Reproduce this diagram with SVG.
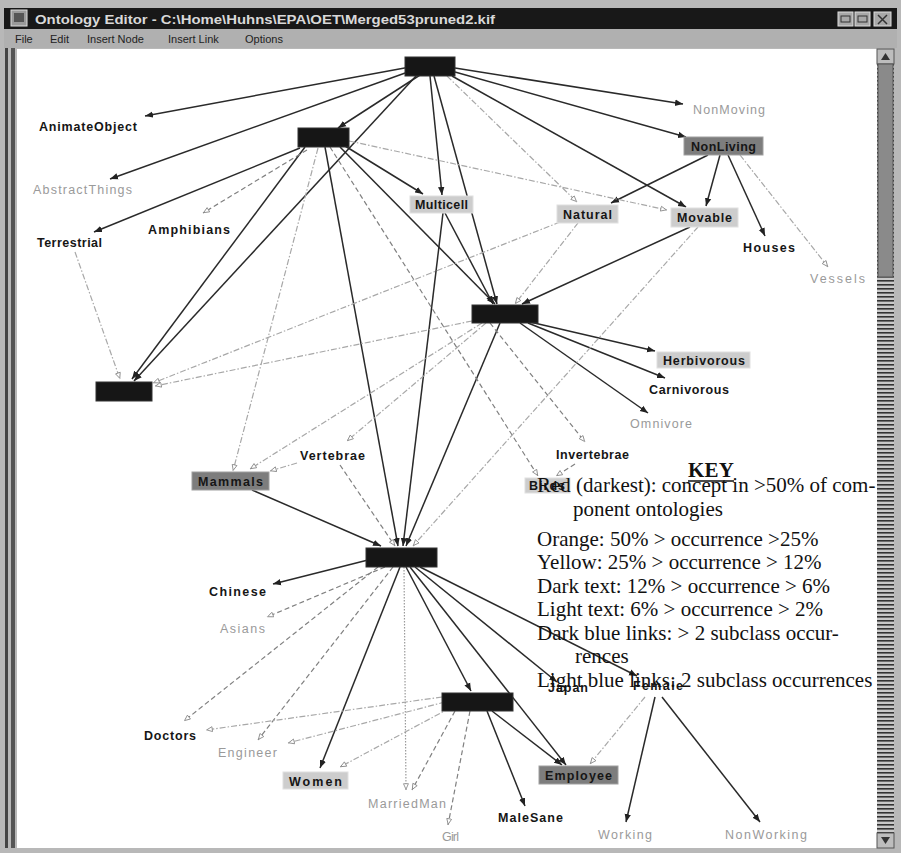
<svg xmlns="http://www.w3.org/2000/svg" width="901" height="853" viewBox="0 0 901 853">
<defs>
<style>
.frame{fill:#b8b8b8}
.lbl{font-family:"Liberation Sans",Arial,sans-serif;font-size:12.5px;font-weight:bold;fill:#161616}
.lt{font-family:"Liberation Sans",Arial,sans-serif;font-size:12.5px;fill:#9a9a9a}
.key{font-family:"Liberation Serif","Times New Roman",serif;font-size:21px;fill:#111}
.blk{fill:#161616;stroke:#333;stroke-width:1}
.org{fill:#7d7d7d;stroke:#a0a0a0;stroke-width:1}
.yel{fill:#cdcdcd;stroke:#e0e0e0;stroke-width:1}
.s{stroke:#2a2a2a;stroke-width:1.5;fill:none}
.d{stroke:#808080;stroke-width:1.2;stroke-dasharray:5 3;fill:none}
.dd{stroke:#a8a8a8;stroke-width:1.2;stroke-dasharray:6 2 1.5 2;fill:none}
.dt{stroke:#9a9a9a;stroke-width:1.2;stroke-dasharray:1.5 1.5;fill:none}
.s{marker-end:url(#ah)}
.d,.dd,.dt{marker-end:url(#ao)}
.menu{font-family:"Liberation Sans",Arial,sans-serif;font-size:11px;fill:#222}
</style>
<marker id="ah" viewBox="0 0 10 10" refX="10" refY="5" markerWidth="8" markerHeight="8" markerUnits="userSpaceOnUse" orient="auto"><path d="M0,1 L10,5 L0,9 z" fill="#222"/></marker>
<marker id="ao" viewBox="0 0 10 10" refX="10" refY="5" markerWidth="7" markerHeight="7" markerUnits="userSpaceOnUse" orient="auto"><path d="M1,1.5 L9,5 L1,8.5 z" fill="#fff" stroke="#888" stroke-width="1.2"/></marker>
<pattern id="stripes" width="17" height="4" patternUnits="userSpaceOnUse"><rect width="17" height="4" fill="#c8c8c8"/><rect y="0" width="17" height="1.6" fill="#333"/></pattern>
</defs>

<!-- window chrome -->
<rect class="frame" x="0" y="0" width="901" height="853"/>
<rect x="4" y="8" width="893" height="21" fill="#181818"/>
<rect x="11" y="10" width="16" height="16" fill="#9a9a9a" stroke="#ddd"/>
<rect x="14" y="13" width="10" height="9" fill="#555"/>
<text x="35" y="24" font-family="'Liberation Sans',Arial,sans-serif" font-size="12.5" font-weight="bold" fill="#d8d8d8" textLength="460" lengthAdjust="spacingAndGlyphs">Ontology Editor - C:\Home\Huhns\EPA\OET\Merged53pruned2.kif</text>
<rect x="838" y="12" width="15" height="14" fill="#a8a8a8" stroke="#ddd"/>
<rect x="855" y="12" width="15" height="14" fill="#a8a8a8" stroke="#ddd"/>
<rect x="874" y="12" width="17" height="14" fill="#a8a8a8" stroke="#ddd"/>
<rect x="841" y="16" width="9" height="6" fill="none" stroke="#333"/>
<rect x="858" y="16" width="9" height="6" fill="none" stroke="#333"/>
<path d="M878,15 L887,24 M887,15 L878,24" stroke="#333" stroke-width="1.5"/>
<rect x="4" y="29" width="893" height="19" fill="#b0b0b0"/>
<text class="menu" x="15" y="43">File</text>
<text class="menu" x="50" y="43">Edit</text>
<text class="menu" x="87" y="43">Insert Node</text>
<text class="menu" x="168" y="43">Insert Link</text>
<text class="menu" x="245" y="43">Options</text>
<rect x="5" y="48" width="3" height="800" fill="#444"/>
<rect x="11" y="48" width="4" height="800" fill="#555"/>
<rect x="17" y="49" width="860" height="799" fill="#ffffff"/>
<!-- scrollbar -->
<rect x="877" y="49" width="17" height="799" fill="url(#stripes)"/>
<rect x="877" y="49" width="17" height="15" fill="#bdbdbd" stroke="#555"/>
<path d="M881,60 L885.5,53 L890,60 z" fill="#333"/>
<rect x="878" y="64" width="15" height="213" fill="#8a8a8a" stroke="#555"/>
<rect x="877" y="833" width="17" height="15" fill="#bdbdbd" stroke="#555"/>
<path d="M881,837 L885.5,844 L890,837 z" fill="#333"/>

<!-- connectors -->
<g id="connectors">
<line class="s" x1="410" y1="67" x2="145" y2="116"/>
<line class="s" x1="408" y1="72" x2="110" y2="179"/>
<line class="s" x1="420" y1="75" x2="338" y2="128"/>
<line class="s" x1="416" y1="76" x2="134" y2="381"/>
<line class="s" x1="430" y1="76" x2="442" y2="195"/>
<line class="s" x1="434" y1="76" x2="497" y2="304"/>
<line class="s" x1="455" y1="68" x2="683" y2="104"/>
<line class="s" x1="455" y1="72" x2="686" y2="137"/>
<line class="s" x1="452" y1="76" x2="686" y2="207"/>
<line class="s" x1="300" y1="148" x2="94" y2="232"/>
<line class="s" x1="305" y1="147" x2="132" y2="379"/>
<line class="s" x1="325" y1="147" x2="398" y2="546"/>
<line class="s" x1="340" y1="147" x2="495" y2="304"/>
<line class="s" x1="345" y1="146" x2="423" y2="194"/>
<line class="s" x1="445" y1="213" x2="493" y2="304"/>
<line class="s" x1="443" y1="213" x2="403" y2="546"/>
<line class="s" x1="708" y1="155" x2="611" y2="203"/>
<line class="s" x1="720" y1="155" x2="706" y2="206"/>
<line class="s" x1="728" y1="155" x2="765" y2="236"/>
<line class="s" x1="690" y1="227" x2="522" y2="304"/>
<line class="s" x1="500" y1="323" x2="406" y2="546"/>
<line class="s" x1="530" y1="322" x2="655" y2="351"/>
<line class="s" x1="528" y1="323" x2="665" y2="378"/>
<line class="s" x1="520" y1="323" x2="648" y2="413"/>
<line class="s" x1="252" y1="490" x2="381" y2="546"/>
<line class="s" x1="368" y1="560" x2="273" y2="584"/>
<line class="s" x1="400" y1="567" x2="320" y2="768"/>
<line class="s" x1="406" y1="567" x2="471" y2="691"/>
<line class="s" x1="410" y1="567" x2="566" y2="765"/>
<line class="s" x1="415" y1="567" x2="557" y2="682"/>
<line class="s" x1="420" y1="567" x2="637" y2="676"/>
<line class="s" x1="487" y1="711" x2="525" y2="806"/>
<line class="s" x1="492" y1="711" x2="562" y2="765"/>
<line class="s" x1="655" y1="697" x2="626" y2="822"/>
<line class="s" x1="662" y1="697" x2="760" y2="822"/>
<line class="d" x1="307" y1="150" x2="203" y2="213"/>
<line class="d" x1="330" y1="147" x2="538" y2="476"/>
<line class="d" x1="490" y1="323" x2="585" y2="442"/>
<line class="d" x1="340" y1="465" x2="395" y2="546"/>
<line class="d" x1="385" y1="567" x2="267" y2="617"/>
<line class="d" x1="378" y1="567" x2="184" y2="721"/>
<line class="d" x1="393" y1="567" x2="258" y2="740"/>
<line class="d" x1="455" y1="711" x2="412" y2="790"/>
<line class="d" x1="470" y1="711" x2="448" y2="825"/>
<line class="d" x1="575" y1="464" x2="556" y2="476"/>
<line class="dd" x1="447" y1="76" x2="577" y2="202"/>
<line class="dd" x1="349" y1="141" x2="667" y2="210"/>
<line class="dd" x1="318" y1="148" x2="233" y2="471"/>
<line class="dd" x1="560" y1="222" x2="153" y2="383"/>
<line class="dd" x1="472" y1="321" x2="155" y2="386"/>
<line class="dd" x1="482" y1="323" x2="250" y2="469"/>
<line class="dd" x1="486" y1="323" x2="347" y2="441"/>
<line class="dd" x1="297" y1="463" x2="270" y2="471"/>
<line class="dd" x1="578" y1="223" x2="515" y2="304"/>
<line class="dd" x1="698" y1="227" x2="413" y2="546"/>
<line class="dd" x1="740" y1="155" x2="828" y2="267"/>
<line class="dd" x1="75" y1="252" x2="120" y2="379"/>
<line class="dd" x1="442" y1="697" x2="206" y2="730"/>
<line class="dd" x1="445" y1="702" x2="288" y2="743"/>
<line class="dd" x1="450" y1="708" x2="340" y2="767"/>
<line class="dd" x1="645" y1="697" x2="590" y2="764"/>
<line class="dt" x1="404" y1="567" x2="406" y2="790"/>
</g>

<!-- nodes -->
<g id="n-top"><rect class="blk" x="405" y="57" width="50" height="19"/></g>
<g id="n-a2"><rect class="blk" x="298" y="128" width="51" height="19"/></g>
<g id="n-c"><rect class="blk" x="472" y="305" width="66" height="18"/></g>
<g id="n-l"><rect class="blk" x="96" y="382" width="56" height="19"/></g>
<g id="n-p"><rect class="blk" x="366" y="548" width="71" height="19"/></g>
<g id="n-b"><rect class="blk" x="442" y="693" width="71" height="18"/></g>

<g id="n-animate"><text class="lbl" x="39" y="131" textLength="98">AnimateObject</text></g>
<g id="n-abstract"><text class="lt" x="33" y="194" textLength="99">AbstractThings</text></g>
<g id="n-amphibians"><text class="lbl" x="148" y="234" textLength="82">Amphibians</text></g>
<g id="n-terrestrial"><text class="lbl" x="37" y="247" textLength="65">Terrestrial</text></g>
<g id="n-nonmoving"><text class="lt" x="693" y="114" textLength="72">NonMoving</text></g>
<g id="n-nonliving"><rect class="org" x="684" y="137" width="79" height="18"/><text class="lbl" x="691" y="151" textLength="65">NonLiving</text></g>
<g id="n-multicell"><rect class="yel" x="410" y="196" width="63" height="17"/><text class="lbl" x="415" y="209" textLength="53">Multicell</text></g>
<g id="n-natural"><rect class="yel" x="557" y="205" width="61" height="18"/><text class="lbl" x="563" y="219" textLength="49">Natural</text></g>
<g id="n-movable"><rect class="yel" x="671" y="208" width="67" height="19"/><text class="lbl" x="677" y="222" textLength="55">Movable</text></g>
<g id="n-houses"><text class="lbl" x="743" y="252" textLength="52">Houses</text></g>
<g id="n-vessels"><text class="lt" x="810" y="283" textLength="55">Vessels</text></g>
<g id="n-herbivorous"><rect class="yel" x="657" y="352" width="93" height="16"/><text class="lbl" x="663" y="365" textLength="82">Herbivorous</text></g>
<g id="n-carnivorous"><text class="lbl" x="649" y="394" textLength="80">Carnivorous</text></g>
<g id="n-omnivore"><text class="lt" x="630" y="428" textLength="62">Omnivore</text></g>
<g id="n-invertebrae"><text class="lbl" x="556" y="459" textLength="73">Invertebrae</text></g>
<g id="n-vertebrae"><text class="lbl" x="300" y="460" textLength="65">Vertebrae</text></g>
<g id="n-mammals"><rect class="org" x="192" y="472" width="77" height="18"/><text class="lbl" x="198" y="486" textLength="65">Mammals</text></g>
<g id="n-birds"><rect class="yel" x="525" y="478" width="45" height="15"/><text class="lbl" x="529" y="490" textLength="36">Birds</text></g>
<g id="n-chinese"><text class="lbl" x="209" y="596" textLength="57">Chinese</text></g>
<g id="n-asians"><text class="lt" x="220" y="633" textLength="45">Asians</text></g>
<g id="n-doctors"><text class="lbl" x="144" y="740" textLength="52">Doctors</text></g>
<g id="n-engineer"><text class="lt" x="218" y="757" textLength="59">Engineer</text></g>
<g id="n-women"><rect class="yel" x="283" y="772" width="65" height="17"/><text class="lbl" x="289" y="786" textLength="53">Women</text></g>
<g id="n-marriedman"><text class="lt" x="368" y="808" textLength="78">MarriedMan</text></g>
<g id="n-girl"><text class="lt" x="442" y="841" textLength="17">Girl</text></g>
<g id="n-malesane"><text class="lbl" x="498" y="822" textLength="65">MaleSane</text></g>
<g id="n-employee"><rect class="org" x="539" y="766" width="79" height="18"/><text class="lbl" x="545" y="780" textLength="67">Employee</text></g>
<g id="n-japan"><text class="lbl" x="548" y="692" textLength="40">Japan</text></g>
<g id="n-female"><text class="lbl" x="633" y="690" textLength="50">Female</text></g>
<g id="n-working"><text class="lt" x="598" y="839" textLength="54">Working</text></g>
<g id="n-nonworking"><text class="lt" x="725" y="839" textLength="82">NonWorking</text></g>

<!-- key -->
<g id="key">
<text class="key" x="688" y="477" font-weight="bold" textLength="46">KEY</text>
<line x1="688" y1="481" x2="734" y2="481" stroke="#111" stroke-width="1.5"/>
<text class="key" x="537" y="492">Red (darkest): concept in &gt;50% of com-</text>
<text class="key" x="573" y="516">ponent ontologies</text>
<text class="key" x="537" y="546">Orange: 50% &gt; occurrence &gt;25%</text>
<text class="key" x="537" y="569">Yellow: 25% &gt; occurrence &gt; 12%</text>
<text class="key" x="537" y="593">Dark text: 12% &gt; occurrence &gt; 6%</text>
<text class="key" x="537" y="616">Light text: 6% &gt; occurrence &gt; 2%</text>
<text class="key" x="537" y="640">Dark blue links: &gt; 2 subclass occur-</text>
<text class="key" x="575" y="663">rences</text>
<text class="key" x="537" y="687">Light blue links: 2 subclass occurrences</text>
</g>
</svg>
